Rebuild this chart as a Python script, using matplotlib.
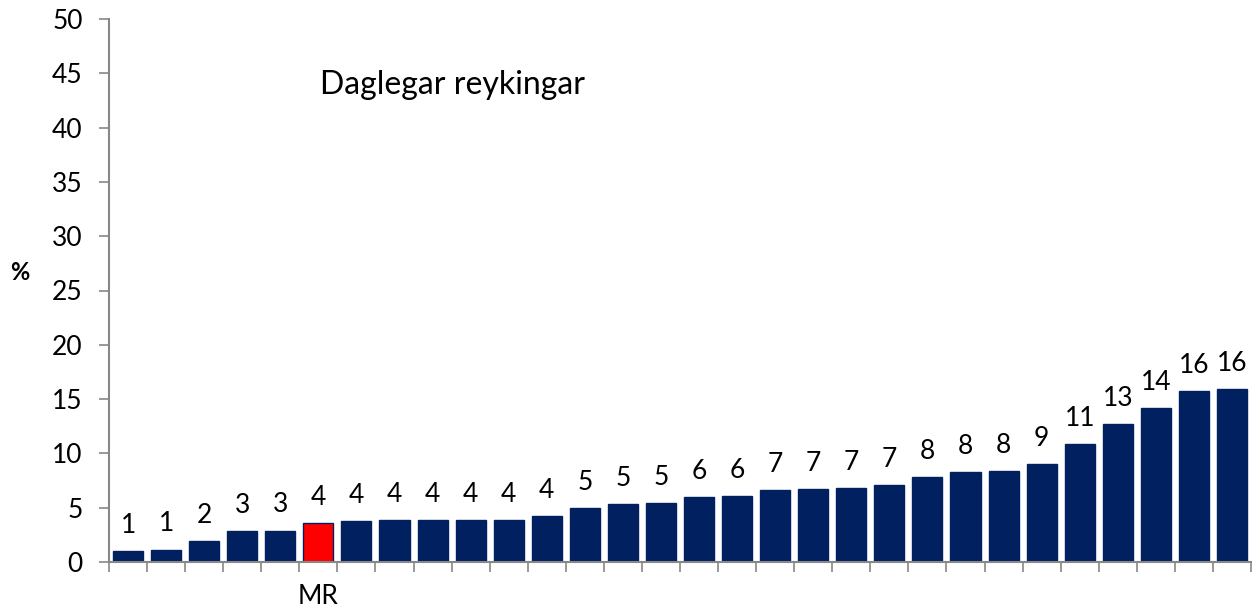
import matplotlib
matplotlib.use("Agg")
import matplotlib.pyplot as plt
import numpy as np

plt.rcParams['font.family'] = ['Lato', 'DejaVu Sans']

values = [1.0, 1.15, 1.9, 2.85, 2.9, 3.55, 3.75, 3.9, 3.9, 3.9, 3.9, 4.2,
          5.0, 5.3, 5.45, 6.0, 6.1, 6.6, 6.7, 6.85, 7.1, 7.8, 8.3, 8.4,
          9.0, 10.9, 12.7, 14.2, 15.7, 15.9]
labels = ["1", "1", "2", "3", "3", "4", "4", "4", "4", "4", "4", "4",
          "5", "5", "5", "6", "6", "7", "7", "7", "7", "8", "8", "8",
          "9", "11", "13", "14", "16", "16"]
highlight_index = 5
highlight_name = "MR"
title_text = "Daglegar reykingar"
y_label = "%"
y_ticks = list(range(0, 55, 5))

navy = "#002060"
red = "#FF0000"
grey = "#888888"

fig = plt.figure(figsize=(12.59, 6.14), dpi=100)
ax = fig.add_axes([109/1259, (614-562)/614, (1251-109)/1259, (562-19)/614])

x = np.arange(len(values))
colors = [red if i == highlight_index else navy for i in range(len(values))]
bars = ax.bar(x, values, width=0.79, color=colors, edgecolor=navy, linewidth=1.0, zorder=2)

for xi, v, lab in zip(x, values, labels):
    ax.annotate(lab, (xi, v), xytext=(0, 13), textcoords='offset points',
                ha='center', va='baseline', fontsize=19, color='black')

ax.set_xlim(-0.5, len(values) - 0.5)
ax.set_ylim(0, 50)
ax.set_yticks(y_ticks)
ax.set_yticklabels([str(t) for t in y_ticks], fontsize=19)
ax.set_xticks(np.arange(-0.5, len(values), 1))
ax.set_xticklabels([])
ax.tick_params(axis='y', direction='out', length=7, color=grey, width=1.2, pad=12)
ax.tick_params(axis='x', direction='out', length=7, color=grey, width=1.2)

for s in ['top', 'right']:
    ax.spines[s].set_visible(False)
for s in ['left', 'bottom']:
    ax.spines[s].set_color(grey)
    ax.spines[s].set_linewidth(1.5)

fig.text((ax.get_position().x0 + (highlight_index + 0.5) / len(values) * ax.get_position().width),
         1 - 597/614, highlight_name, ha='center', va='center', fontsize=19)

fig.text(20/1259, 1 - 272/614, y_label, ha='center', va='center', fontsize=17, fontweight='bold')
fig.text(320/1259, 1 - 85/614, title_text, ha='left', va='center', fontsize=23)

fig.savefig("out.png", dpi=100)
